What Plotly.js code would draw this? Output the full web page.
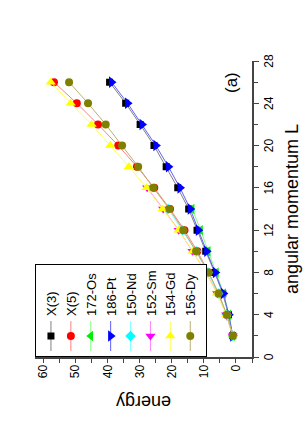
<!DOCTYPE html>
<html>
<head>
<meta charset="utf-8">
<script src="https://cdn.plot.ly/plotly-3.0.1.min.js"></script>
<style>
  html, body { margin: 0; padding: 0; overflow: hidden; background: #fff; width: 303px; height: 436px; }
  #wrap { position: absolute; left: 0; top: 0; width: 436px; height: 303px;
          transform-origin: 0 0; transform: translate(0, 436px) rotate(-90deg); }
</style>
</head>
<body>
<div id="wrap"><div id="chart" style="width:436px;height:303px;"></div></div>
<script>
// angular momentum values
const L_full = [2, 4, 6, 8, 10, 12, 14, 16, 18, 20, 22, 24, 26];
const L_to14 = [2, 4, 6, 8, 10, 12, 14];
const L_to16 = [2, 4, 6, 8, 10, 12, 14, 16];

// energies
const X3    = [1.0, 2.3, 4.1, 6.6, 9.4, 12.1, 14.7, 18.1, 21.7, 25.5, 29.8, 34.3, 39.3];
const X5    = [1.0, 2.9, 5.4, 8.5, 12.0, 16.0, 20.5, 25.4, 30.8, 36.6, 42.9, 49.5, 56.6];
const Os172 = [1.0, 2.2, 3.8, 6.1, 8.6, 11.0, 13.6];
const Pt186 = [1.0, 2.2, 3.9, 6.4, 9.1, 11.7, 14.2, 17.4, 21.0, 24.9, 29.2, 33.7, 38.7];
const Nd150 = [1.0, 2.9, 5.5, 8.7, 12.4, 16.7, 21.1];
const Sm152 = [1.0, 3.0, 5.8, 9.3, 13.5, 17.8, 22.6, 27.6];
const Gd154 = [1.0, 3.0, 5.9, 9.4, 13.4, 17.9, 22.8, 27.8, 33.3, 39.1, 44.9, 51.4, 57.6];
const Dy156 = [0.95, 2.8, 5.4, 8.5, 12.4, 16.4, 20.7, 25.7, 30.4, 35.4, 40.5, 46.0, 51.9];

const names = ['X(3)', 'X(5)', '172-Os', '186-Pt', '150-Nd', '152-Sm', '154-Gd', '156-Dy'];
const xs = [L_full, L_full, L_to14, L_full, L_to14, L_to16, L_full, L_full];
const ys = [X3, X5, Os172, Pt186, Nd150, Sm152, Gd154, Dy156];
const markerColors = ['#000000', '#ff0000', '#00ee00', '#0000ff', '#00ffff', '#ff00ff', '#ffff00', '#808000'];
const lineColors   = ['#808080', '#ff8080', '#80ff80', '#6060ff', '#80ffff', '#ff80ff', '#ffff60', '#b8b070'];
// symbols are given for the unrotated frame (the page is rotated 90 degrees)
const symbols = ['square', 'circle', 'triangle-up', 'triangle-down', 'diamond', 'triangle-left', 'triangle-right', 'circle'];
const sizes   = [7, 8, 9, 10, 8, 9, 9, 8];

const FONT = 'Liberation Sans, Arial, sans-serif';

const traces = names.map((n, i) => ({
  type: 'scatter', mode: 'lines+markers', name: n,
  x: xs[i], y: ys[i],
  line: {color: lineColors[i], width: 1},
  marker: {color: markerColors[i], symbol: symbols[i], size: sizes[i], line: {width: 0}}
}));

const xr = [0, 28];
const yr = [-5, 62.5];

const layout = {
  width: 436, height: 303,
  margin: {l: 79, r: 61, t: 35, b: 51},
  paper_bgcolor: '#fff', plot_bgcolor: '#fff',
  font: {family: FONT, color: '#000', size: 12},
  showlegend: true,
  legend: {x: 0, y: 1, xanchor: 'left', yanchor: 'top', bgcolor: '#fff',
           bordercolor: '#000', borderwidth: 1, font: {family: FONT, size: 13, color: '#000'}},
  xaxis: {range: xr, dtick: 4, tick0: 0, ticks: 'outside', ticklen: 5, tickwidth: 1, tickcolor: '#444',
          minor: {dtick: 2, ticks: 'outside', ticklen: 4, tickcolor: '#444'},
          showline: true, linecolor: '#444', linewidth: 1.5, showgrid: false, zeroline: false,
          tickfont: {size: 12}, title: {text: 'angular momentum L', font: {size: 18}, standoff: 10}},
  yaxis: {range: yr, dtick: 10, tick0: 0, ticks: 'outside', ticklen: 4, tickwidth: 1, tickcolor: '#444',
          minor: {dtick: 5, ticks: 'outside', ticklen: 4, tickcolor: '#444'},
          showline: true, linecolor: '#444', linewidth: 1.5, showgrid: false, zeroline: false,
          tickfont: {size: 12},
          title: {text: 'energy\u00a0\u00a0\u00a0\u00a0\u00a0\u00a0\u00a0', font: {size: 18}, standoff: 12}},
  xaxis2: {overlaying: 'x', side: 'top', range: xr, dtick: 4, tick0: 0, ticks: 'inside', ticklen: 5,
           tickcolor: '#444', minor: {dtick: 2, ticks: 'inside', ticklen: 4, tickcolor: '#444'},
           showticklabels: false, showline: true, linecolor: '#444', linewidth: 1.5, showgrid: false, zeroline: false},
  yaxis2: {overlaying: 'y', side: 'right', range: yr, dtick: 10, tick0: 0, ticks: 'inside', ticklen: 4,
           tickcolor: '#444', minor: {dtick: 5, ticks: 'inside', ticklen: 4, tickcolor: '#444'},
           showticklabels: false, showline: true, linecolor: '#444', linewidth: 1.5, showgrid: false, zeroline: false},
  annotations: [{text: '(a)', xref: 'paper', yref: 'paper', x: 0.926, y: 0.094,
                 xanchor: 'center', yanchor: 'middle',
                 showarrow: false, font: {size: 17, family: FONT, color: '#000'}}]
};

Plotly.newPlot('chart', traces, layout, {displayModeBar: false, staticPlot: true});
</script>
</body>
</html>
